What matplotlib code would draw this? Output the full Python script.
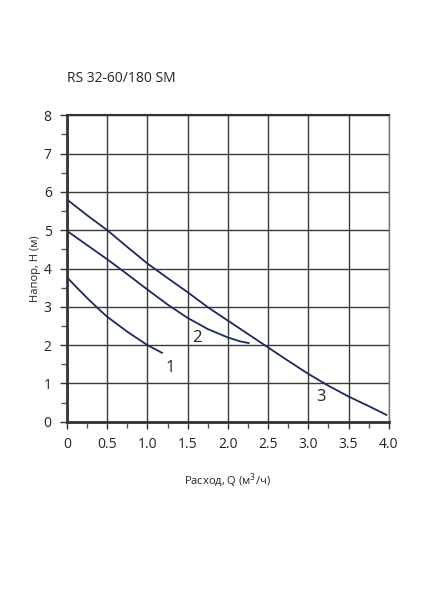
import matplotlib
matplotlib.use("Agg")
import matplotlib.pyplot as plt
from matplotlib.ticker import MultipleLocator

plt.rcParams['font.family'] = ['Open Sans', 'DejaVu Sans']

q1 = [0.0, 0.1, 0.25, 0.4, 0.5, 0.75, 1.0, 1.19]
h1 = [3.77, 3.55, 3.23, 2.93, 2.74, 2.35, 2.0, 1.79]
q2 = [0.0, 0.25, 0.5, 0.75, 1.0, 1.25, 1.5, 1.75, 2.0, 2.15, 2.27]
h2 = [4.98, 4.61, 4.24, 3.85, 3.45, 3.06, 2.71, 2.42, 2.2, 2.1, 2.05]
q3 = [0.0, 0.25, 0.5, 0.75, 1.0, 1.25, 1.5, 1.75, 2.0, 2.25, 2.5, 2.75, 3.0, 3.25, 3.5, 3.75, 3.98]
h3 = [5.8, 5.39, 5.0, 4.56, 4.13, 3.75, 3.38, 2.99, 2.64, 2.29, 1.94, 1.59, 1.25, 0.94, 0.66, 0.41, 0.17]
curve_labels = ['1', '2', '3']
label_pos = [(1.28, 1.4), (1.62, 2.19), (3.16, 0.66)]
xticks = [0, 0.5, 1.0, 1.5, 2.0, 2.5, 3.0, 3.5, 4.0]
xticklabels = ['0', '0.5', '1.0', '1.5', '2.0', '2.5', '3.0', '3.5', '4.0']
yticks = [0, 1, 2, 3, 4, 5, 6, 7, 8]

fig = plt.figure(figsize=(4.24, 6.0), dpi=100)
ax = fig.add_axes([0.158, 0.297, 0.759, 0.511])
line_color = '#1b2a5c'
for q, h in [(q1, h1), (q2, h2), (q3, h3)]:
    ax.plot(q, h, color=line_color, lw=1.3, solid_capstyle='butt', solid_joinstyle='round')
for lab, (x, y) in zip(curve_labels, label_pos):
    ax.text(x, y, lab, fontsize=12, color='#222222', ha='center', va='center')

ax.set_xlim(0, 4.0)
ax.set_ylim(0, 8)
ax.set_xticks(xticks)
ax.set_xticklabels(xticklabels)
ax.set_yticks(yticks)
ax.xaxis.set_minor_locator(MultipleLocator(0.25))
ax.yaxis.set_minor_locator(MultipleLocator(0.5))
ax.grid(True, which='major', color='#3a3a3a', lw=1.0)
ax.set_axisbelow(True)
ax.tick_params(which='major', length=5, width=1, color='#333333', labelsize=10, labelcolor='#222222', pad=6)
ax.tick_params(which='minor', length=4, width=1, color='#555555')
for s in ax.spines.values():
    s.set_color('#333333')
    s.set_linewidth(1.0)
ax.spines['left'].set_linewidth(2.0)
ax.spines['bottom'].set_linewidth(2.0)
ax.spines['top'].set_linewidth(1.5)
ax.spines['right'].set_color('#777777')

fig.text(67/424, 1 - 78/600, 'RS 32-60/180 SM', fontsize=10, color='#222222', ha='left', va='center')
ax.set_ylabel('Напор, H (м)', fontsize=8, color='#222222', labelpad=2)
ax.set_xlabel('Расход, Q (м$^3$/ч)', fontsize=8, color='#222222', labelpad=14)

fig.savefig('out.png', dpi=100)
